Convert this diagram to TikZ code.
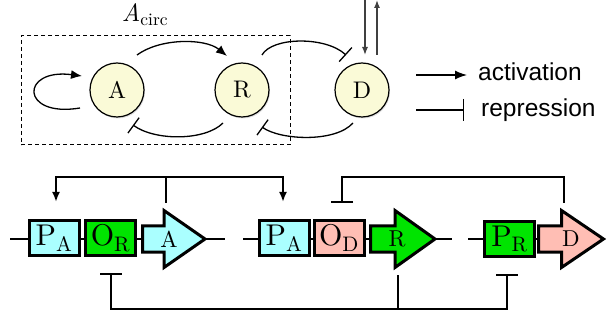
\documentclass[tikz,border=0pt]{standalone}
\usepackage{fontspec}
\newfontfamily\sansf{Liberation Sans}
\newfontfamily\lmten{lmroman10-regular.otf}[ItalicFont=lmroman10-italic.otf]
\usetikzlibrary{arrows.meta,shadows,calc}
\definecolor{cfill}{RGB}{250,250,215}
\definecolor{cyanf}{RGB}{170,255,255}
\definecolor{greenf}{RGB}{0,228,0}
\definecolor{pinkf}{RGB}{255,190,180}
\newcommand\genearrow[7]{%
  \draw[genestyle,fill=#4] (#1,226) -- (#2,226) -- (#2,210.5) -- (#3,239) -- (#2,267.5) -- (#2,252) -- (#1,252) -- cycle;
  \node[genelabel] (#5) at (#6,239) {#7};
}
\begin{document}
\begin{tikzpicture}[x=1pt,y=-1pt,
  species/.style={circle,draw,line width=1.2pt,fill=cfill,minimum size=54pt,inner sep=0pt,
    font=\lmten\fontsize{24}{27}\selectfont,
    drop shadow={opacity=0.25,shadow xshift=1pt,shadow yshift=-1.5pt}},
  net/.style={line width=1.3pt},
  act/.style={net,-{Latex[length=11pt,width=9pt]}},
  rep/.style={net,-{Bar[width=19pt]}},
  thin/.style={line width=1.3pt,draw=black!75},
  partbox/.style={rectangle,draw,line width=3pt,minimum width=50pt,minimum height=35pt,inner sep=0pt,
    font=\lmten\fontsize{30}{33}\selectfont},
  genestyle/.style={line width=3pt,line join=miter},
  genelabel/.style={inner sep=0pt,font=\lmten\fontsize{23}{26}\selectfont},
  backbone/.style={line width=2pt},
  conn/.style={line width=2pt},
  conact/.style={conn,-{Latex[length=10pt,width=8pt]}},
  conrep/.style={conn,-{Bar[width=22pt]}},
  legtext/.style={inner sep=0pt,font=\sansf\fontsize{24.5}{27}\selectfont}
]
\useasboundingbox (0,0) rectangle (607,320);

% ---------- top network ----------
\node[draw,dashed,line width=1pt,dash pattern=on 4pt off 3pt,minimum width=269pt,minimum height=109pt,inner sep=0pt] (circ) at (155.5,90.5) {};
\node[anchor=base,inner sep=0pt,font=\lmten\fontsize{25}{28}\selectfont] (circlabel) at (145,22) {\textit{A}\textsubscript{circ}};

\node[species] (A) at (117,90) {A};
\node[species] (R) at (242,90) {R};
\node[species] (D) at (362,90) {D};

% self activation of A
\draw[act] ($(A)+(-37,18)$) .. controls (20,118) and (20,68) .. ($(A)+(-35,-14)$);
% A -> R
\draw[act] ($(A)+(20,-35)$) .. controls (160,38) and (205,38) .. ($(R)+(-15,-34)$);
% R -| A
\draw[rep] ($(R)+(-19,33)$) .. controls (205,141) and (155,141) .. ($(A)+(16,35)$);
% R -| D
\draw[rep] ($(R)+(20,-35)$) .. controls (272,37) and (325,36) .. ($(D)+(-16,-35)$);
% D -| R
\draw[rep] ($(D)+(-9,33)$) .. controls (335,143) and (280,140) .. ($(R)+(20,37)$);

% input / output of D
\coordinate (inD) at (365,0);
\coordinate (outD) at (377,0);
\draw[thin,-{Latex[length=8pt,width=6pt]}] (inD) -- ($(D)+(3,-35)$);
\draw[thin,-{Latex[length=8pt,width=6pt]}] ($(D)+(15,-35)$) -- (outD);

% legend
\coordinate (la1) at (416,75);
\coordinate (la2) at (467,75);
\coordinate (lr1) at (416,110);
\coordinate (lr2) at (464,110);
\draw[net,-{Latex[length=12pt,width=9pt]}] (la1) -- (la2);
\draw[net,-{Bar[width=22pt]}] (lr1) -- (lr2);
\node[legtext,anchor=base west] (tact) at (478,81) {activation};
\node[legtext,anchor=base west] (trep) at (481,117) {repression};

% ---------- bottom genetic circuit ----------
\draw[backbone] (10,239) -- (225,239);
\draw[backbone] (243,239) -- (452,239);
\draw[backbone] (468,239) -- (540,239);

\node[partbox,fill=cyanf] (PA1) at (54,238) {P\textsubscript{A}};
\node[partbox,fill=greenf] (OR) at (110.5,238) {O\textsubscript{R}};
\genearrow{142.5}{164}{205}{cyanf}{gA}{169}{A}

\node[partbox,fill=cyanf] (PA2) at (284,238) {P\textsubscript{A}};
\node[partbox,fill=pinkf] (OD) at (339,238) {O\textsubscript{D}};
\genearrow{370.5}{395}{435}{greenf}{gR}{397}{R}

\node[partbox,fill=greenf] (PR) at (509.5,239) {P\textsubscript{R}};
\genearrow{538.5}{561.5}{603.5}{pinkf}{gD}{571}{D}

% A activates both P_A
\coordinate (Aout) at (166,203);
\coordinate (pa1in) at (56,202);
\coordinate (pa2in) at (283,202);
\coordinate (jA) at (166,177);
\draw[conact] (Aout) -- (jA) -| (pa1in);
\draw[conact] (jA) -| (pa2in);

% D represses O_D
\coordinate (Dout) at (564,203);
\coordinate (odin) at (342,203);
\draw[conrep] (Dout) -- (564,177) -| (odin);

% R represses O_R and P_R
\coordinate (Rout) at (398,275);
\coordinate (jR) at (398,309);
\coordinate (orin) at (111,273);
\coordinate (prin) at (507,274);
\draw[conrep] (Rout) -- (jR) -| (orin);
\draw[conrep] (jR) -| (prin);
\end{tikzpicture}
\end{document}
